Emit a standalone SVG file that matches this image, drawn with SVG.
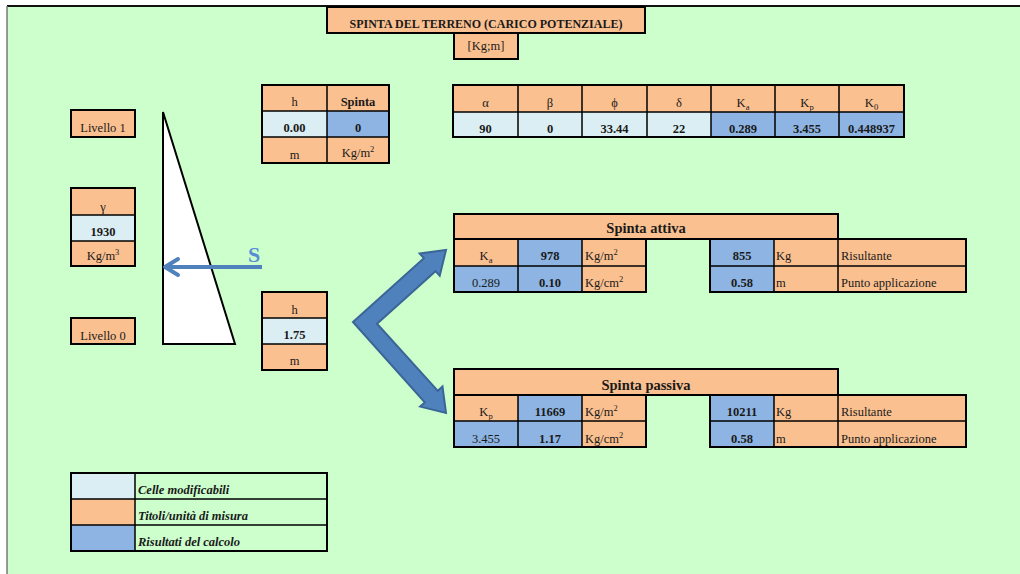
<svg xmlns="http://www.w3.org/2000/svg" width="1020" height="574" viewBox="0 0 1020 574" font-family="'Liberation Serif', 'DejaVu Serif', serif">
<style>
text{font-family:"Liberation Serif","DejaVu Serif",serif;font-size:12.5px;fill:#1a1a1a;text-anchor:middle}
.b{font-weight:bold}
.l{text-anchor:start}
.bi{font-weight:bold;font-style:italic;text-anchor:start}
.h{font-weight:bold;font-size:14.5px}
.o{fill:#FAC090}
.lb{fill:#DAEEF3}
.mb{fill:#8DB4E2}
.ln{stroke:#000;stroke-width:1.5;fill:none}
.bx{stroke:#000;stroke-width:2;fill:none}
.sub{font-size:8.5px}
</style>
<rect x="0" y="0" width="1020" height="574" fill="#fff"/>
<rect x="7" y="6" width="1013" height="568" fill="#CCFFCC"/>
<line x1="7" y1="6" x2="1020" y2="6" stroke="#111" stroke-width="2"/>
<line x1="7" y1="6" x2="7" y2="574" stroke="#777" stroke-width="1.5"/>

<g id="title">
<rect x="327" y="7" width="318" height="26" class="o"/>
<rect x="327" y="7" width="318" height="26" class="bx"/>
<text x="486" y="28" class="b" style="font-size:12px">SPINTA DEL TERRENO (CARICO POTENZIALE)</text>
<rect x="454" y="33" width="64" height="26" class="o"/>
<rect x="454" y="33" width="64" height="26" class="bx"/>
<text x="486" y="50">[Kg;m]</text>
</g>

<g id="table-h-spinta">
<rect x="262" y="85" width="127" height="26" class="o"/>
<rect x="262" y="111" width="65" height="26" class="lb"/>
<rect x="327" y="111" width="62" height="26" class="mb"/>
<rect x="262" y="137" width="127" height="26" class="o"/>
<path d="M262 111H389M262 137H389M327 85V163" class="ln"/>
<rect x="262" y="85" width="127" height="78" class="bx"/>
<text x="294.5" y="106">h</text>
<text x="358" y="106" class="b">Spinta</text>
<text x="294.5" y="132" class="b">0.00</text>
<text x="358" y="132" class="b">0</text>
<text x="294.5" y="159">m</text>
<text x="358" y="157">Kg/m<tspan class="sub" dy="-5">2</tspan></text>
</g>

<g id="table-params">
<rect x="453" y="85" width="451" height="27" class="o"/>
<rect x="453" y="112" width="258" height="25" class="lb"/>
<rect x="711" y="112" width="193" height="25" class="mb"/>
<path d="M453 112H904M518 85V137M582 85V137M647 85V137M711 85V137M775 85V137M839 85V137" class="ln"/>
<rect x="453" y="85" width="451" height="52" class="bx"/>
<text x="485.5" y="107">α</text>
<text x="550" y="107">β</text>
<text x="614.5" y="107">ϕ</text>
<text x="679" y="107">δ</text>
<text x="743" y="107">K<tspan class="sub" dy="3">a</tspan></text>
<text x="807" y="107">K<tspan class="sub" dy="3">p</tspan></text>
<text x="871.5" y="107">K<tspan class="sub" dy="3">0</tspan></text>
<text x="485.5" y="133" class="b">90</text>
<text x="550" y="133" class="b">0</text>
<text x="614.5" y="133" class="b">33.44</text>
<text x="679" y="133" class="b">22</text>
<text x="743" y="133" class="b">0.289</text>
<text x="807" y="133" class="b">3.455</text>
<text x="871.5" y="133" class="b">0.448937</text>
</g>

<g id="livello1">
<rect x="71" y="110" width="64" height="27" class="o"/>
<rect x="71" y="110" width="64" height="27" class="bx"/>
<text x="103" y="132">Livello 1</text>
</g>

<g id="gamma">
<rect x="71" y="188" width="64" height="27" class="o"/>
<rect x="71" y="215" width="64" height="26" class="lb"/>
<rect x="71" y="241" width="64" height="25" class="o"/>
<path d="M71 215H135M71 241H135" class="ln"/>
<rect x="71" y="188" width="64" height="78" class="bx"/>
<text x="103" y="211">γ</text>
<text x="103" y="236" class="b">1930</text>
<text x="103" y="260">Kg/m<tspan class="sub" dy="-5">3</tspan></text>
</g>

<g id="livello0">
<rect x="71" y="318" width="64" height="26" class="o"/>
<rect x="71" y="318" width="64" height="26" class="bx"/>
<text x="103" y="340">Livello 0</text>
</g>

<g id="triangle">
<polygon points="163,112 163,344 235,344" fill="#fff" stroke="#000" stroke-width="2"/>
</g>

<g id="table-h2">
<rect x="262" y="292" width="65" height="26" class="o"/>
<rect x="262" y="318" width="65" height="26" class="lb"/>
<rect x="262" y="344" width="65" height="26" class="o"/>
<path d="M262 318H327M262 344H327" class="ln"/>
<rect x="262" y="292" width="65" height="78" class="bx"/>
<text x="294.5" y="314">h</text>
<text x="294.5" y="339" class="b">1.75</text>
<text x="294.5" y="365">m</text>
</g>

<g id="spinta-attiva">
<rect x="454" y="214" width="384" height="25" class="o"/>
<rect x="454" y="214" width="384" height="25" class="bx"/>
<text x="646" y="233" class="h">Spinta attiva</text>
<rect x="454" y="239" width="64" height="27" class="o"/>
<rect x="518" y="239" width="64" height="27" class="mb"/>
<rect x="582" y="239" width="64" height="53" class="o"/>
<rect x="454" y="266" width="128" height="26" class="mb"/>
<path d="M454 266H646M518 239V292M582 239V292" class="ln"/>
<rect x="454" y="239" width="192" height="53" class="bx"/>
<rect x="710" y="239" width="64" height="53" class="mb"/>
<rect x="774" y="239" width="192" height="53" class="o"/>
<path d="M710 266H966M774 239V292M838 239V292" class="ln"/>
<rect x="710" y="239" width="256" height="53" class="bx"/>
<text x="486" y="260">K<tspan class="sub" dy="3">a</tspan></text>
<text x="550" y="260" class="b">978</text>
<text x="585" y="260" class="l">Kg/m<tspan class="sub" dy="-5">2</tspan></text>
<text x="486" y="287">0.289</text>
<text x="550" y="287" class="b">0.10</text>
<text x="585" y="287" class="l">Kg/cm<tspan class="sub" dy="-5">2</tspan></text>
<text x="742" y="260" class="b">855</text>
<text x="776" y="260" class="l">Kg</text>
<text x="841" y="260" class="l">Risultante</text>
<text x="742" y="287" class="b">0.58</text>
<text x="776" y="287" class="l">m</text>
<text x="841" y="287" class="l">Punto applicazione</text>
</g>

<g id="spinta-passiva">
<rect x="454" y="369" width="384" height="26" class="o"/>
<rect x="454" y="369" width="384" height="26" class="bx"/>
<text x="646" y="390" class="h">Spinta passiva</text>
<rect x="454" y="395" width="64" height="26" class="o"/>
<rect x="518" y="395" width="64" height="26" class="mb"/>
<rect x="582" y="395" width="64" height="52" class="o"/>
<rect x="454" y="421" width="128" height="26" class="mb"/>
<path d="M454 421H646M518 395V447M582 395V447" class="ln"/>
<rect x="454" y="395" width="192" height="52" class="bx"/>
<rect x="710" y="395" width="64" height="52" class="mb"/>
<rect x="774" y="395" width="192" height="52" class="o"/>
<path d="M710 421H966M774 395V447M838 395V447" class="ln"/>
<rect x="710" y="395" width="256" height="52" class="bx"/>
<text x="486" y="416">K<tspan class="sub" dy="3">p</tspan></text>
<text x="550" y="416" class="b">11669</text>
<text x="585" y="416" class="l">Kg/m<tspan class="sub" dy="-5">2</tspan></text>
<text x="486" y="443">3.455</text>
<text x="550" y="443" class="b">1.17</text>
<text x="585" y="443" class="l">Kg/cm<tspan class="sub" dy="-5">2</tspan></text>
<text x="742" y="416" class="b">10211</text>
<text x="776" y="416" class="l">Kg</text>
<text x="841" y="416" class="l">Risultante</text>
<text x="742" y="443" class="b">0.58</text>
<text x="776" y="443" class="l">m</text>
<text x="841" y="443" class="l">Punto applicazione</text>
</g>

<g id="legend">
<rect x="71" y="473" width="64" height="26" class="lb"/>
<rect x="71" y="499" width="64" height="26" class="o"/>
<rect x="71" y="525" width="64" height="26" class="mb"/>
<path d="M71 499H327M71 525H327M135 473V551" class="ln"/>
<rect x="71" y="473" width="256" height="78" class="bx"/>
<text x="138" y="494" class="bi">Celle modificabili</text>
<text x="138" y="520" class="bi">Titoli/unità di misura</text>
<text x="138" y="546" class="bi">Risultati del calcolo</text>
</g>

<g id="connectors">
<g id="arrow-s">
<line x1="262" y1="267" x2="166" y2="267" stroke="#4F81BD" stroke-width="4"/>
<polyline points="178,259 165,267 178,275" fill="none" stroke="#4F81BD" stroke-width="4" stroke-linecap="round" stroke-linejoin="round"/>
<text x="254" y="262" class="b" style="font-size:22px;fill:#558ED5">S</text>
</g>
<polygon id="split-arrow" points="353,322 423.9,258.2 419.7,253.6 446,250 439.7,275.8 435.5,271.2 377,323.7 437.8,390.8 442.5,386.6 446,413 420.1,406.6 424.8,402.4" fill="#4F81BD" stroke="#3A6596" stroke-width="2" stroke-linejoin="miter"/>
</g>
</svg>
